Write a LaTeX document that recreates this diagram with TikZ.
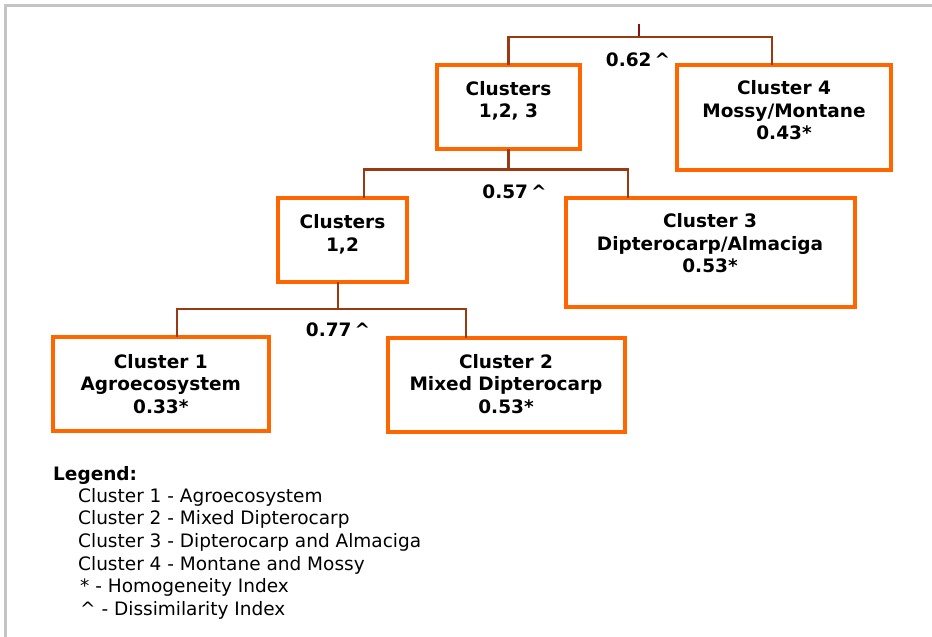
\documentclass[tikz,border=0pt]{standalone}
\usepackage{fontspec}
\setmainfont{DejaVu Sans}
\usetikzlibrary{calc}
\definecolor{boxorange}{HTML}{FF6600}
\definecolor{linkbrown}{HTML}{9A3A12}
\definecolor{rootred}{HTML}{8B1010}
\definecolor{framegrey}{HTML}{C4C4C4}
% zero-width strut that fixes the height of a node's first line
\newcommand{\capstrut}{\rule{0pt}{14pt}}
\begin{document}
\begin{tikzpicture}[x=1pt,y=-1pt,
  box/.style={draw=boxorange, line width=4pt, fill=white, inner sep=0pt,
    outer sep=0pt, anchor=north west},
  boxtext/.style={font=\fontsize{18.5}{22.5}\selectfont\bfseries, align=center,
    anchor=north, inner sep=0pt},
  index/.style={font=\fontsize{18.5}{22}\selectfont\bfseries, anchor=base, inner sep=0pt},
  link/.style={draw=linkbrown, line width=2.2pt},
  rootlink/.style={draw=rootred, line width=2.2pt},
  legtitle/.style={font=\fontsize{18.5}{22}\selectfont\bfseries, anchor=base west, inner sep=0pt},
  legbody/.style={font=\fontsize{18.5}{22.6}\selectfont, align=left, anchor=north west, inner sep=0pt}]

\useasboundingbox (0,0) rectangle (932,637);
% page frame (top and left edges)
\draw[framegrey, line width=2.5pt] (5.3,637) -- (5.3,5.3) -- (932,5.3);

% cluster boxes
\node[box, minimum width=143pt, minimum height=84.5pt] (c123) at (437,64.5) {};
\node[box, minimum width=213.7pt, minimum height=104.4pt] (c4) at (677,65.3) {};
\node[box, minimum width=129pt, minimum height=84pt] (c12) at (278,198) {};
\node[box, minimum width=288.7pt, minimum height=109.3pt] (c3) at (566,197.7) {};
\node[box, minimum width=215.7pt, minimum height=94pt] (c1) at (53,337) {};
\node[box, minimum width=237pt, minimum height=94pt] (c2) at (387.5,338) {};

% box texts
\node[boxtext] (t123) at (508.5,81) {\capstrut Clusters\\1,2, 3};
\node[boxtext] (t4) at (784,80.3) {\capstrut Cluster 4\\Mossy/Montane\\0.43*};
\node[boxtext] (t12) at (342.5,214.3) {\capstrut Clusters\\1,2};
\node[boxtext] (t3) at (710,213.3) {\capstrut Cluster 3\\Dipterocarp/Almaciga\\0.53*};
\node[boxtext] (t1) at (160.8,354) {\capstrut Cluster 1\\Agroecosystem\\0.33*};
\node[boxtext] (t2) at (506,354) {\capstrut Cluster 2\\Mixed Dipterocarp\\0.53*};

% dissimilarity indices
\node[index] (d62) at (638,66.7) {0.62\,\textasciicircum};
\node[index] (d57) at (514.5,198.3) {0.57\,\textasciicircum};
\node[index] (d77) at (338,336.7) {0.77\,\textasciicircum};

% junction points of the dendrogram
\coordinate (root) at (639,24);
\coordinate (j0) at (639,37);
\coordinate (c4in) at (771.7,65.3);
\coordinate (j1) at (508.5,169.5);
\coordinate (c12in) at (364,198);
\coordinate (c3in) at (627.7,197.7);
\coordinate (c12out) at (337.7,282);
\coordinate (j2) at (337.7,309);
\coordinate (c1in) at (176.7,337);
\coordinate (c2in) at (465.7,338);

\draw[rootlink] (root) -- (j0);
\draw[link] (c123.north) |- (j0) -| (c4in);
\draw[link] (c123.south) -- (j1);
\draw[link] (c12in) |- (j1) -| (c3in);
\draw[link] (c12out) -- (j2);
\draw[link] (c1in) |- (j2) -| (c2in);

% legend
\node[legtitle] (legtitle) at (53,480) {Legend:};
\node[legbody] (legbody) at (78,488) {\rule{0pt}{13pt}Cluster 1 - Agroecosystem\\
Cluster 2 - Mixed Dipterocarp\\
Cluster 3 - Dipterocarp and Almaciga\\
Cluster 4 - Montane and Mossy\\
\hspace*{2pt}* - Homogeneity Index\\
\hspace*{2pt}\textasciicircum{} - Dissimilarity Index};
\end{tikzpicture}
\end{document}
